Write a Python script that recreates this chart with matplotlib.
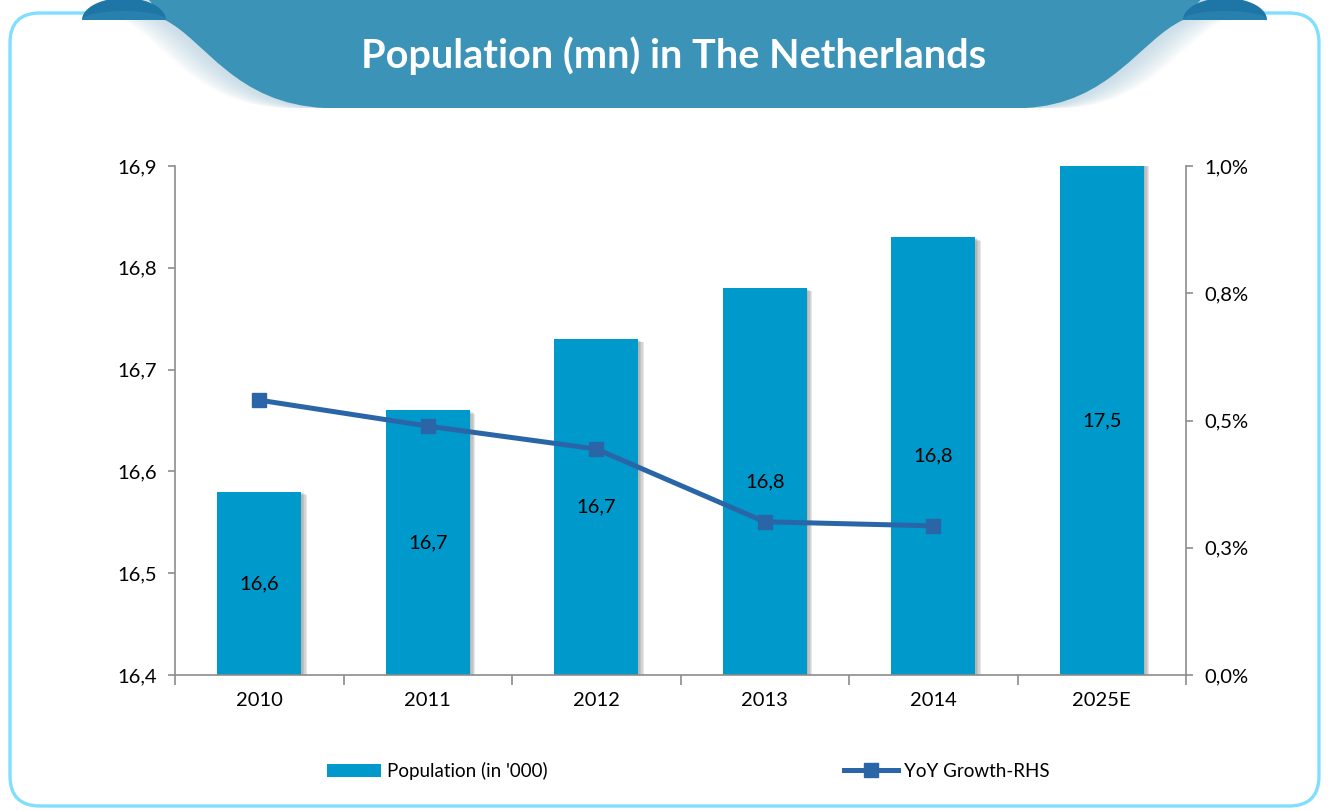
import numpy as np
import matplotlib
matplotlib.use('Agg')
import matplotlib.pyplot as plt
import matplotlib.patheffects as pe
from matplotlib.patches import FancyBboxPatch, PathPatch, Polygon, Patch
from matplotlib.path import Path
from matplotlib.lines import Line2D
from matplotlib.ticker import FixedLocator

plt.rcParams['font.family'] = ['Lato', 'DejaVu Sans']

# population in millions and year-on-year growth in percent
years = ['2010', '2011', '2012', '2013', '2014', '2025E']
population = [16.58, 16.66, 16.73, 16.78, 16.83, 17.5]
growth = [0.54, 0.489, 0.444, 0.301, 0.293]
lhs_ticks = [16.4, 16.5, 16.6, 16.7, 16.8, 16.9]
rhs_ticks = [0.0, 0.25, 0.5, 0.75, 1.0]
rhs_tick_labels = ['0,0%', '0,3%', '0,5%', '0,8%', '1,0%']

bar_col = '#0099cc'
line_col = '#2a66a7'
head_col = '#3b93b8'
axis_col = '#8c8c8c'
fs = 14.5

W, H = 1328, 811
fig = plt.figure(figsize=(W / 100, H / 100), dpi=100)

# background layer in pixel units: frame and header ribbon
bg = fig.add_axes([0, 0, 1, 1])
bg.set_xlim(0, W)
bg.set_ylim(H, 0)
bg.axis('off')

frame = FancyBboxPatch((10, 13), 1309, 793, boxstyle='round,pad=0,rounding_size=30',
                       fc='white', ec='#80dfff', lw=2.4)
bg.add_patch(frame)

def ribbon(dx=0):
    verts = [(145 + dx, -5), (165 + dx, 20),
             (205 + dx, 40), (235 + dx, 104), (325 + dx, 108),
             (1025 - dx, 108),
             (1110 - dx, 104), (1140 - dx, 40), (1183 - dx, 20),
             (1205 - dx, -5), (145 + dx, -5)]
    codes = [Path.MOVETO, Path.LINETO,
             Path.CURVE4, Path.CURVE4, Path.CURVE4,
             Path.LINETO,
             Path.CURVE4, Path.CURVE4, Path.CURVE4,
             Path.LINETO, Path.CLOSEPOLY]
    return Path(verts, codes)

# soft fade along the curled edges
for k in range(1, 36, 2):
    bg.add_patch(PathPatch(ribbon(-k * 1.2), fc='#a9cbdc', ec='none', alpha=0.045))
bg.add_patch(PathPatch(ribbon(), fc=head_col, ec='none'))

# dark curl tips at the top corners (upper half ellipses)
t = np.linspace(0, np.pi, 40)
for cx in (124, 1225):
    tip = np.column_stack([cx + 42 * np.cos(t), 20 - 22 * np.sin(t)])
    bg.add_patch(Polygon(tip, closed=True, fc='#1d76a6', ec='none'))
    inner = np.column_stack([cx + 42 * np.cos(t), 20 - 9 * np.sin(t)])
    bg.add_patch(Polygon(inner, closed=True, fc='#2f87b2', ec='none', alpha=0.6))

bg.text(674, 56, 'Population (mn) in The Netherlands', color='white',
        fontsize=28.5, fontweight='bold', ha='center', va='center')

# main chart
ax = fig.add_axes([175 / W, 136 / H, 1011 / W, 509 / H])
ax.set_facecolor('none')
x = list(range(len(years)))
shadow = [pe.SimplePatchShadow(offset=(o, -o * 0.6), shadow_rgbFace='#7a7a7a', alpha=0.18)
          for o in (1, 2, 3, 4)] + [pe.Normal()]
bars = ax.bar(x, population, width=0.5, color=bar_col, zorder=2)
for b in bars:
    b.set_path_effects(shadow)

ax.set_xlim(-0.5, len(years) - 0.5)
ax.set_ylim(lhs_ticks[0], lhs_ticks[-1])
ax.set_yticks(lhs_ticks)
ax.set_yticklabels([f'{v:.1f}'.replace('.', ',') for v in lhs_ticks])
ax.set_xticks(x)
ax.set_xticklabels(years)
ax.xaxis.set_minor_locator(FixedLocator([i - 0.5 for i in range(len(years) + 1)]))
ax.tick_params(axis='x', which='major', length=0, pad=12, labelsize=fs)
ax.tick_params(axis='x', which='minor', length=7, width=1.2, color=axis_col, direction='out')
ax.tick_params(axis='y', length=5, width=1.2, color=axis_col, pad=8, labelsize=fs)
for s in ('top', 'right'):
    ax.spines[s].set_visible(False)
for s in ('left', 'bottom'):
    ax.spines[s].set_color(axis_col)
    ax.spines[s].set_linewidth(1.2)

lo, hi = ax.get_ylim()
for xi, v in zip(x, population):
    ax.text(xi, (lo + min(v, hi)) / 2, f'{v:.1f}'.replace('.', ','),
            ha='center', va='center', fontsize=fs, color='black', zorder=3)

ax2 = ax.twinx()
ax2.plot(x[:len(growth)], growth, color=line_col, lw=3.6, marker='s', ms=10,
         solid_capstyle='round')
ax2.set_ylim(rhs_ticks[0], rhs_ticks[-1])
ax2.set_yticks(rhs_ticks)
ax2.set_yticklabels(rhs_tick_labels)
ax2.tick_params(axis='y', length=5, width=1.2, color=axis_col, pad=8, labelsize=fs)
for s in ('top', 'left', 'bottom'):
    ax2.spines[s].set_visible(False)
ax2.spines['right'].set_color(axis_col)
ax2.spines['right'].set_linewidth(1.2)

handles = [Patch(fc=bar_col, ec='none'),
           Line2D([], [], color=line_col, lw=3.6, marker='s', ms=10)]
fig.legend(handles, ["Population (in '000)", 'YoY Growth-RHS'], ncol=2,
           loc='center', bbox_to_anchor=(688 / W, 1 - 771 / H), frameon=False,
           fontsize=13.5, handlelength=2.9, handleheight=0.7, handletextpad=0.3,
           columnspacing=15.8)

fig.savefig('out.png', dpi=100)
